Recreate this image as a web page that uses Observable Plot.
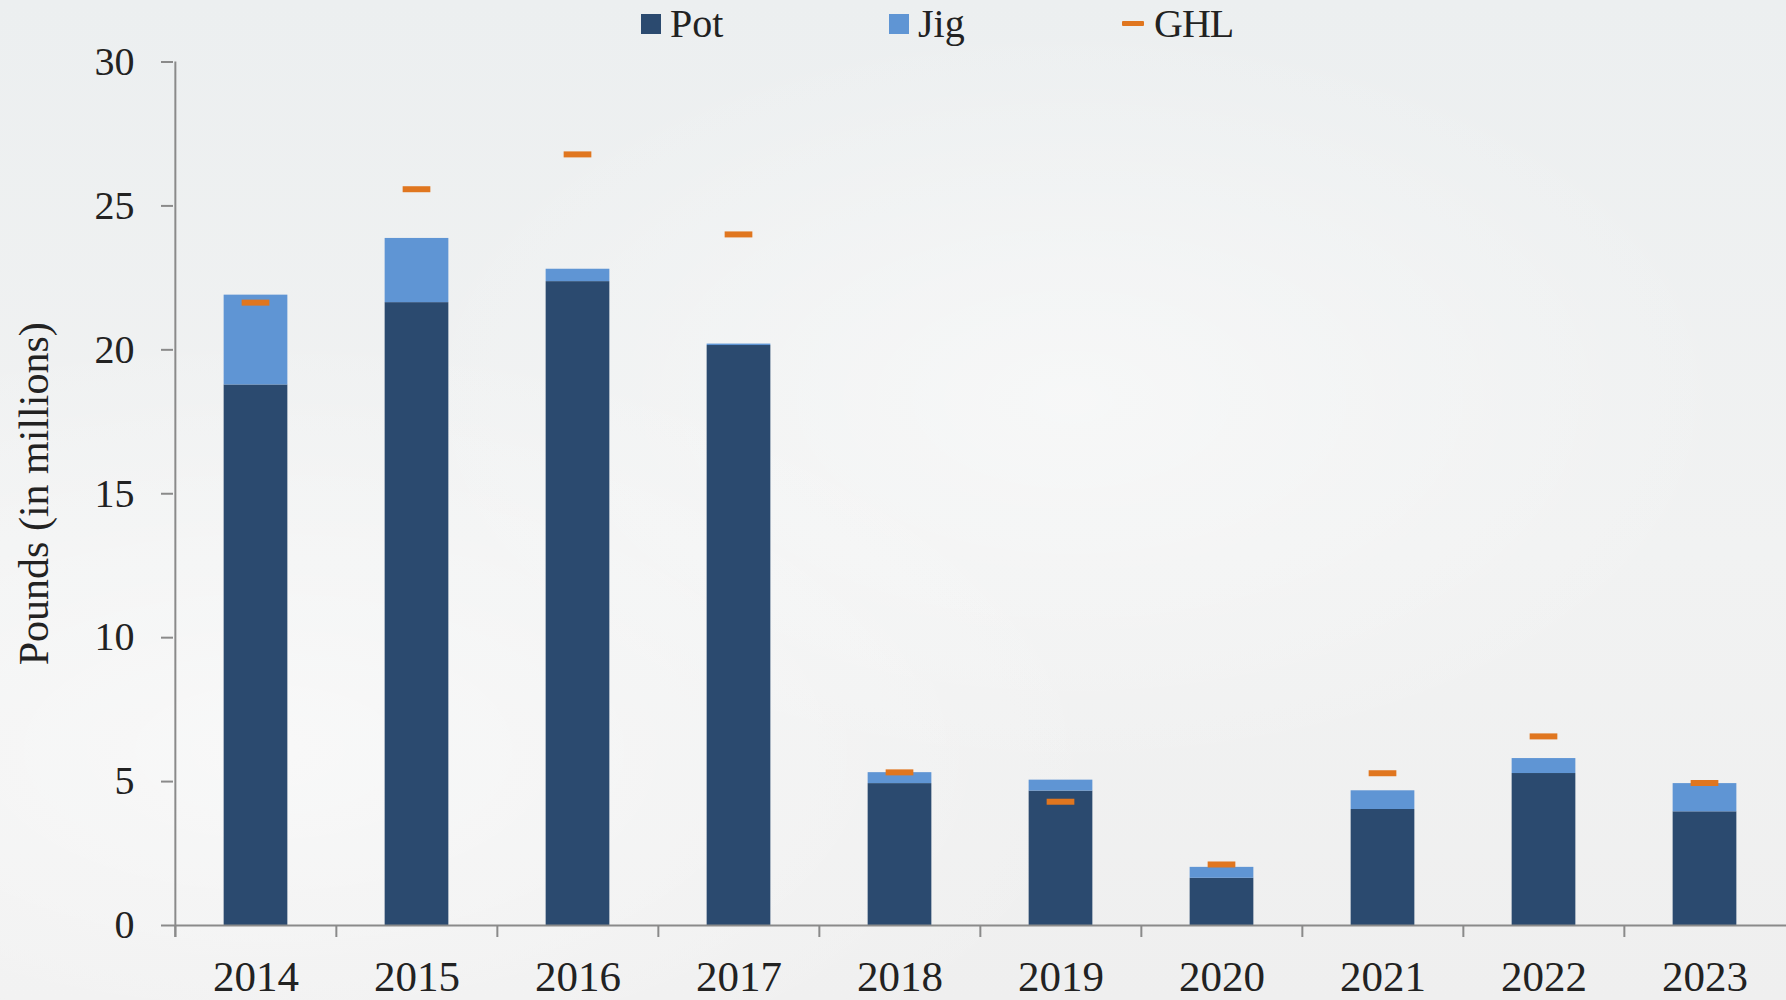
<!DOCTYPE html>
<html><head><meta charset="utf-8">
<script src="https://cdn.jsdelivr.net/npm/d3@7"></script>
<script src="https://cdn.jsdelivr.net/npm/@observablehq/plot@0.6"></script>
<style>
html,body{margin:0;padding:0;}
body{position:relative;width:1786px;height:1000px;overflow:hidden;
  background:
    radial-gradient(ellipse at 15% 75%, rgba(255,255,255,0.55), rgba(255,255,255,0) 40%),
    radial-gradient(ellipse at 60% 40%, rgba(255,255,255,0.45), rgba(255,255,255,0) 45%),
    linear-gradient(180deg,#eceff0 0%,#f1f2f2 55%,#efefef 100%);
  font-family:"Liberation Serif","DejaVu Serif",serif;color:#222;}
#legend{position:absolute;left:0;top:0;width:1786px;height:48px;font-size:40px;z-index:2;}
.li{position:absolute;top:0;height:47px;display:flex;align-items:center;line-height:1;}
.sw{display:inline-block;width:20px;height:20px;margin-right:9px;}
.dash{display:inline-block;width:22px;height:5px;margin-right:10px;border-radius:1px;}
#chart svg{background:transparent;display:block;}
</style></head><body>
<div id="legend"></div>
<div id="chart"></div>
<script>
const years = ["2014","2015","2016","2017","2018","2019","2020","2021","2022","2023"];
const potValues = [18.78, 21.64, 22.37, 20.15, 4.93, 4.67, 1.64, 4.03, 5.28, 3.95];
const jigValues = [3.12, 2.23, 0.43, 0.05, 0.38, 0.38, 0.38, 0.65, 0.52, 0.98];
const ghlValues = [21.64, 25.58, 26.79, 24.01, 5.32, 4.30, 2.12, 5.29, 6.57, 4.95];
const yTicks = [0, 5, 10, 15, 20, 25, 30];
const seriesNames = ["Pot", "Jig", "GHL"];
const seriesColors = ["#2b4a6f", "#5f95d4", "#e0761f"];

// legend
const legend = document.getElementById("legend");
const legendX = [641, 889, 1122];
seriesNames.forEach((name, i) => {
  const d = document.createElement("div");
  d.className = "li";
  d.style.left = legendX[i] + "px";
  const s = document.createElement("span");
  s.className = name === "GHL" ? "dash" : "sw";
  s.style.background = seriesColors[i];
  d.appendChild(s);
  const t = document.createElement("span");
  t.textContent = name;
  if (name === "GHL") t.style.letterSpacing = "-1px";
  d.appendChild(t);
  legend.appendChild(d);
});

const stacked = [];
years.forEach((y, i) => stacked.push({year: y, type: "Pot", value: potValues[i]}));
years.forEach((y, i) => stacked.push({year: y, type: "Jig", value: jigValues[i]}));
const ghlRows = years.map((y, i) => ({year: y, ghl: ghlValues[i]}));

const W = 1786, H = 1000, ML = 173, MR = 0;
const bw = (W - ML - MR) / years.length;
const barW = 64, ghlW = 28;
const axisColor = "#8a8a8a";

const chart = Plot.plot({
  width: W, height: H,
  marginLeft: ML, marginRight: MR, marginTop: 61.5, marginBottom: 75,
  style: {fontFamily: "'Liberation Serif','DejaVu Serif',serif", color: "#222", background: "transparent"},
  x: {domain: years, padding: 0, axis: null},
  y: {domain: [0, 30], axis: null},
  color: {domain: seriesNames.slice(0, 2), range: seriesColors.slice(0, 2)},
  marks: [
    Plot.barY(stacked, {x: "year", y: "value", fill: "type",
      insetLeft: (bw - barW) / 2, insetRight: (bw - barW) / 2}),
    Plot.tickY(ghlRows, {x: "year", y: "ghl", stroke: seriesColors[2], strokeWidth: 6,
      insetLeft: (bw - ghlW) / 2, insetRight: (bw - ghlW) / 2}),
    Plot.ruleY([0], {stroke: axisColor, strokeWidth: 2}),
    Plot.ruleX([years[0]], {dx: -bw / 2, y1: 30, y2: 0, insetBottom: -12, stroke: axisColor, strokeWidth: 2}),
    Plot.axisX({tickSize: 12, tickFormat: () => "", label: null, dx: -bw / 2, stroke: axisColor, strokeWidth: 2, strokeOpacity: 1}),
    Plot.axisX({tickSize: 0, tickPadding: 35, fontSize: 43, label: null}),
    Plot.axisY({ticks: yTicks, tickSize: 12, tickPadding: 27, fontSize: 40, stroke: axisColor, strokeWidth: 2, strokeOpacity: 1, label: null}),
    Plot.text(["Pounds (in millions)"], {frameAnchor: "left", textAnchor: "middle", dx: -139, rotate: -90, fontSize: 42, fill: "#222"})
  ]
});
document.getElementById("chart").appendChild(chart);
</script>
</body></html>
